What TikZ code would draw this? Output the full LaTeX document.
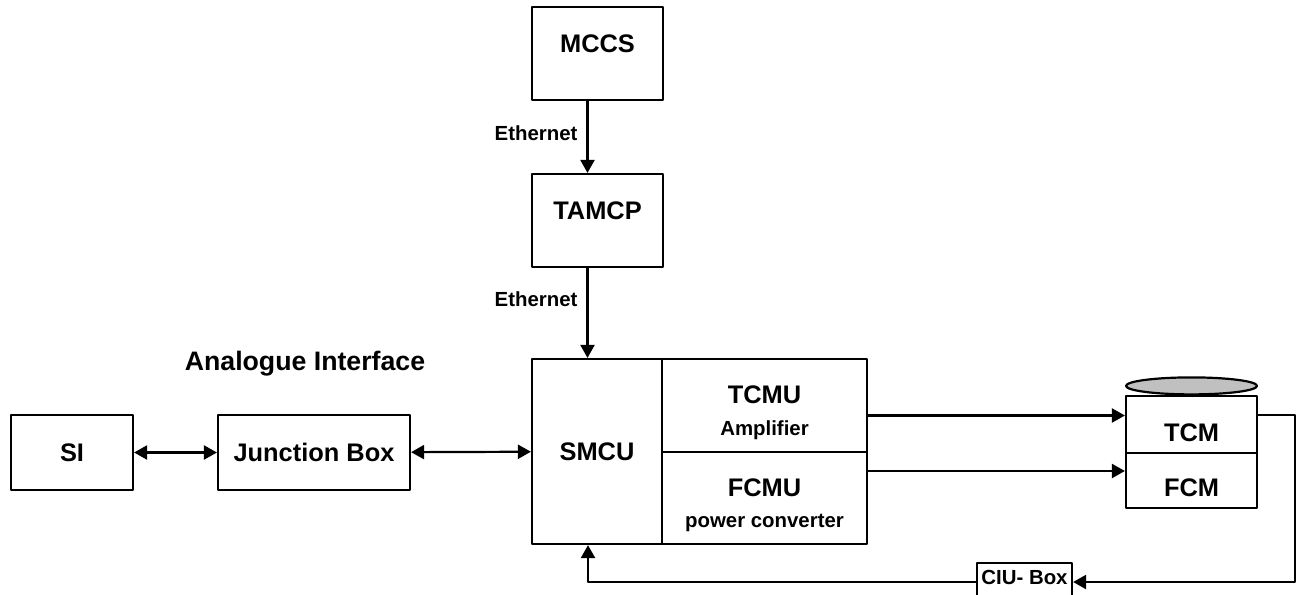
\documentclass[tikz,border=0pt]{standalone}
\usepackage{fontspec}
\setmainfont{Liberation Sans}
\usetikzlibrary{arrows.meta}
\definecolor{capgray}{RGB}{192,192,192}
\newcommand\bigtxt{\fontsize{25.4}{30}\selectfont\bfseries}
\newcommand\smalltxt{\fontsize{20.4}{24}\selectfont\bfseries}
\begin{document}
\begin{tikzpicture}[x=1pt,y=-1pt,line width=2.2pt,line join=round,>={Triangle[length=13pt,width=14pt]},
	box/.style={draw,inner sep=0pt,font=\bigtxt},
	big/.style={font=\bigtxt,inner sep=0pt},
	small/.style={font=\smalltxt,inner sep=0pt}]
	\useasboundingbox (0,0) rectangle (1300,594);
	% boxes
	\node[box,minimum width=131pt,minimum height=93pt,label={[big,yshift=9.5pt]center:MCCS}] (mccs) at (597.5,53.5) {};
	\node[box,minimum width=131pt,minimum height=93pt,label={[big,yshift=10pt]center:TAMCP}] (tamcp) at (597.5,220.5) {};
	\node[box,minimum width=130pt,minimum height=185pt] (smcu) at (597,451.5) {SMCU};
	\node[box,minimum width=205pt,minimum height=93pt,label={[big,yshift=10.5pt]center:TCMU},label={[small,yshift=-25pt]center:Amplifier}] (tcmu) at (764.5,405.5) {};
	\node[box,minimum width=205pt,minimum height=92pt,label={[big,yshift=10pt]center:FCMU},label={[small,yshift=-25pt]center:power converter}] (fcmu) at (764.5,498) {};
	\node[box,minimum width=122pt,minimum height=75pt] (si) at (72,452.5) {SI};
	\node[box,minimum width=192pt,minimum height=75pt] (jbox) at (314,452.5) {Junction Box};
	\node[box,minimum width=131pt,minimum height=57pt,label={[big,yshift=-8.5pt]center:TCM}] (tcm) at (1191.5,424.5) {};
	\node[box,minimum width=131pt,minimum height=55pt,label={[big,yshift=-7pt]center:FCM}] (fcm) at (1191.5,480.5) {};
	\node[box,minimum width=95pt,minimum height=38pt,label={[small,yshift=5pt]center:CIU- Box}] (ciu) at (1024.5,582) {};
	\draw[fill=capgray] ([yshift=9pt]tcm.north) ellipse [x radius=65.5,y radius=8.5];
	\node[font=\fontsize{26.7}{32}\selectfont\bfseries,inner sep=0pt,anchor=base] (analog) at (305,370) {Analogue Interface};
	% connections
	\draw[->] ([xshift=-10pt]mccs.south) -- node[small,pos=0.45,left=9pt]{Ethernet} ([xshift=-10pt]tamcp.north);
	\draw[->] ([xshift=-10pt]tamcp.south) -- node[small,pos=0.35,left=9pt]{Ethernet} ([xshift=-10pt]tamcp.south |- smcu.north);
	\draw[<->] (si) -- (jbox);
	\draw[<->] (jbox) -- (smcu);
	\draw[->] ([yshift=-10pt]tcmu.east) -- ([yshift=-10pt]tcmu.east -| tcm.west);
	\draw[->] ([yshift=27pt]fcmu.east) -- ([yshift=27pt]fcmu.east -| fcm.west);
	\draw[->] ([yshift=9.5pt]tcm.east) -- ++(37,0) |- (ciu.east);
	\draw[->] (ciu.west) -| ([xshift=-9pt]smcu.south);
\end{tikzpicture}
\end{document}
